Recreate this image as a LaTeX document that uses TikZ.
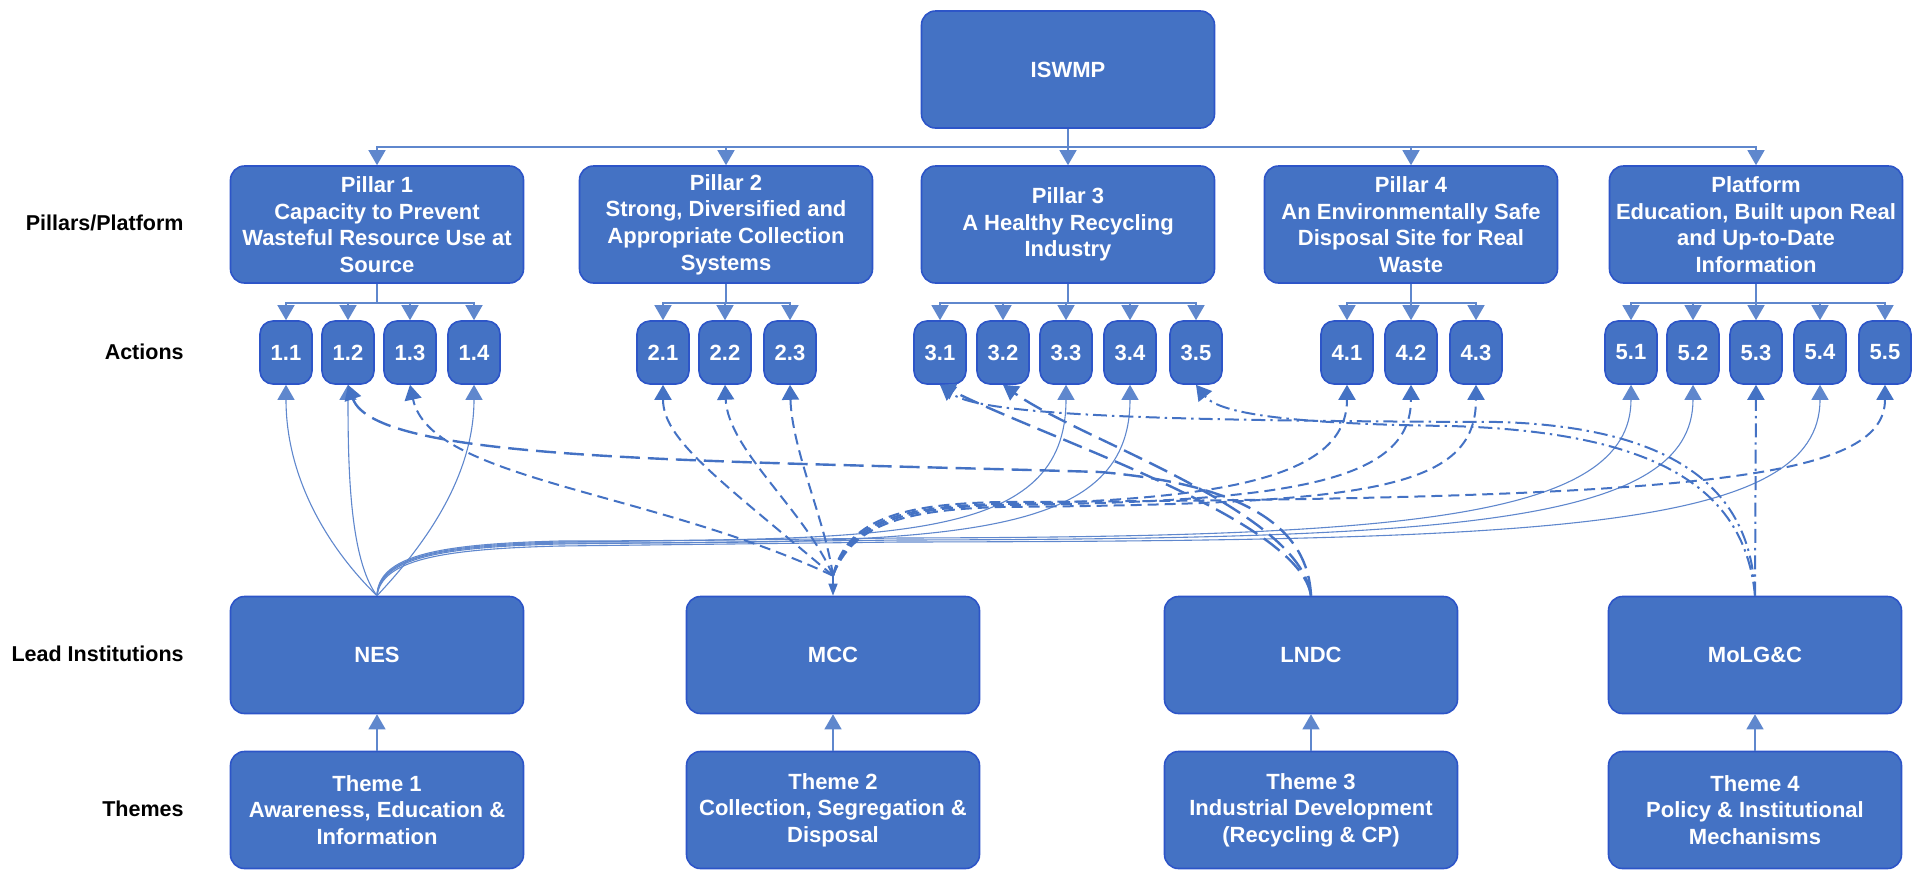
\documentclass[tikz,border=0pt]{standalone}
\usepackage{fontspec}
\setmainfont{Liberation Sans}
\usetikzlibrary{arrows.meta}
\definecolor{boxfill}{RGB}{68,114,196}
\definecolor{boxline}{RGB}{45,85,200}
\definecolor{conn}{RGB}{68,114,196}
\definecolor{thinconn}{RGB}{95,135,205}
\tikzset{
  bigbox/.style={rectangle, rounded corners=7pt, fill=boxfill, draw=boxline, line width=0.8pt,
    text=white, font=\bfseries\fontsize{11}{13.3}\selectfont, align=center,
    minimum width=146.5pt, minimum height=58.5pt, inner sep=1pt},
  actbox/.style={bigbox, rounded corners=6.5pt, minimum width=26pt, minimum height=31.5pt},
  rowlabel/.style={anchor=east, inner sep=0pt, font=\bfseries\fontsize{10.75}{13}\selectfont, text=black},
  arrowtip/.style={-{Triangle[width=8.5pt,length=7.5pt]}},
  treeline/.style={draw=thinconn, line width=0.7pt, arrowtip},
  hubarrow/.style={draw=conn, line width=0.7pt, -{Triangle[width=4.5pt,length=6pt]}},
  nesline/.style={draw=thinconn, line width=0.55pt, arrowtip},
  mccline/.style={draw=conn, line width=1pt, dash pattern=on 5.5pt off 3pt, arrowtip},
  lndcline/.style={draw=conn, line width=1.2pt, dash pattern=on 10pt off 4pt, arrowtip},
  molgline/.style={draw=conn, line width=1pt, dash pattern=on 7pt off 2.5pt on 1.2pt off 2.5pt, arrowtip}
}
\begin{document}
\begin{tikzpicture}[x=0.5pt,y=-0.5pt]
\useasboundingbox (0,0) rectangle (1913,869);

% row labels
\node[rowlabel] (lblp) at (184,223) {Pillars/Platform};
\node[rowlabel] (lbla) at (184,352) {Actions};
\node[rowlabel] (lbll) at (184,654) {Lead Institutions};
\node[rowlabel] (lblt) at (184,809) {Themes};

% top
\node[bigbox] (iswmp) at (1068,69.5) {ISWMP};

% pillars
\node[bigbox] (p1) at (377,224.5) {Pillar 1\\Capacity to Prevent\\Wasteful Resource Use at\\Source};
\node[bigbox] (p2) at (726,224.5) {Pillar 2\\Strong, Diversified and\\Appropriate Collection\\Systems};
\node[bigbox] (p3) at (1068,224.5) {Pillar 3\\A Healthy Recycling\\Industry};
\node[bigbox] (p4) at (1411,224.5) {Pillar 4\\An Environmentally Safe\\Disposal Site for Real\\Waste};
\node[bigbox] (p5) at (1756,224.5) {Platform\\Education, Built upon Real\\and Up-to-Date\\Information};

% actions
\foreach \n/\x in {11/286,12/348,13/410,14/474,21/663,22/725,23/790,
  31/940,32/1003,33/1066,34/1130,35/1196,41/1347,42/1411,43/1476,
  51/1631,52/1693,53/1756,54/1820,55/1885}{
  \node[actbox] (a\n) at (\x,352.5) {\pgfmathparse{int(\n/10)}\pgfmathresult.\pgfmathparse{int(mod(\n,10))}\pgfmathresult};
}

% lead institutions
\node[bigbox] (nes) at (377,655) {NES};
\node[bigbox] (mcc) at (833,655) {MCC};
\node[bigbox] (lndc) at (1311,655) {LNDC};
\node[bigbox] (molg) at (1755,655) {MoLG\&C};

% themes
\node[bigbox] (t1) at (377,810) {Theme 1\\Awareness, Education \&\\Information};
\node[bigbox] (t2) at (833,810) {Theme 2\\Collection, Segregation \&\\Disposal};
\node[bigbox] (t3) at (1311,810) {Theme 3\\Industrial Development\\(Recycling \& CP)};
\node[bigbox] (t4) at (1755,810) {Theme 4\\Policy \& Institutional\\Mechanisms};

% ISWMP tree
\foreach \p in {p1,p2,p3,p4,p5}{
  \draw[treeline] (iswmp.south) -- ++(0,18) -| (\p.north);
}
% pillar to actions
\foreach \a in {a11,a12,a13,a14}{\draw[treeline] (p1.south) -- ++(0,19) -| (\a.north);}
\foreach \a in {a21,a22,a23}{\draw[treeline] (p2.south) -- ++(0,19) -| (\a.north);}
\foreach \a in {a31,a32,a33,a34,a35}{\draw[treeline] (p3.south) -- ++(0,19) -| (\a.north);}
\foreach \a in {a41,a42,a43}{\draw[treeline] (p4.south) -- ++(0,19) -| (\a.north);}
\foreach \a in {a51,a52,a53,a54,a55}{\draw[treeline] (p5.south) -- ++(0,19) -| (\a.north);}

% themes to lead institutions
\draw[treeline] (t1.north) -- (nes.south);
\draw[treeline] (t2.north) -- (mcc.south);
\draw[treeline] (t3.north) -- (lndc.south);
\draw[treeline] (t4.north) -- (molg.south);

% NES connectors (solid thin)
\draw[nesline] (nes.north) .. controls (330,550) and (286,480) .. (a11.south);
\draw[nesline] (nes.north) .. controls (350,560) and (348,470) .. (a12.south);
\draw[nesline] (nes.north) .. controls (420,550) and (474,480) .. (a14.south);
\draw[nesline] (nes.north) .. controls (378,555) and (440,544) .. (560,541) .. controls (900,540) and (1066,540) .. (a33.south);
\draw[nesline] (nes.north) .. controls (379,557) and (440,546) .. (560,543) .. controls (950,543) and (1130,541) .. (a34.south);
\draw[nesline] (nes.north) .. controls (380,556) and (440,545) .. (560,542) -- (900,538) .. controls (1400,537) and (1631,520) .. (a51.south);
\draw[nesline] (nes.north) .. controls (381,558) and (440,547) .. (560,544) -- (900,540) .. controls (1450,539) and (1693,525) .. (a52.south);
\draw[nesline] (nes.north) .. controls (382,560) and (440,549) .. (560,546) -- (900,542) .. controls (1550,541) and (1820,530) .. (a54.south);

% MCC connectors (dashed)
\coordinate (mcchub) at ([yshift=10pt]mcc.north);
\draw[hubarrow] (mcchub) -- (mcc.north);
\draw[mccline] (mcchub) .. controls (650,490) and (430,480) .. (a13.south);
\draw[mccline] (mcchub) .. controls (720,480) and (663,440) .. (a21.south);
\draw[mccline] (mcchub) .. controls (805,510) and (728,450) .. (a22.south);
\draw[mccline] (mcchub) .. controls (825,520) and (792,450) .. (a23.south);
\draw[mccline] (mcchub) .. controls (848,522) and (900,506) .. (1000,504) .. controls (1250,500) and (1347,470) .. (a41.south);
\draw[mccline] (mcchub) .. controls (850,524) and (900,508) .. (1000,505) .. controls (1300,502) and (1411,480) .. (a42.south);
\draw[mccline] (mcchub) .. controls (852,526) and (900,510) .. (1000,507) .. controls (1370,504) and (1476,490) .. (a43.south);
\draw[mccline] (mcchub) .. controls (846,520) and (900,504) .. (1000,502) .. controls (1700,499) and (1885,480) .. (a55.south);

% LNDC connectors (long dash)
\draw[lndcline] (lndc.north) .. controls (1308,530) and (1250,485) .. (1100,472) .. controls (700,460) and (375,462) .. (a12.south);
\draw[lndcline] (lndc.north) .. controls (1300,520) and (1050,440) .. (a31.south);
\draw[lndcline] (lndc.north) .. controls (1300,510) and (1080,440) .. (a32.south);

% MoLG&C connectors (dash-dot)
\draw[molgline] (molg.north) -- (a53.south);
\draw[molgline] (molg.north) .. controls (1752,500) and (1690,428) .. (1500,422) .. controls (1150,421) and (980,415) .. (a31.south);
\draw[molgline] (molg.north) .. controls (1745,490) and (1660,432) .. (1450,426) .. controls (1300,424) and (1220,415) .. (a35.south);
\end{tikzpicture}
\end{document}
